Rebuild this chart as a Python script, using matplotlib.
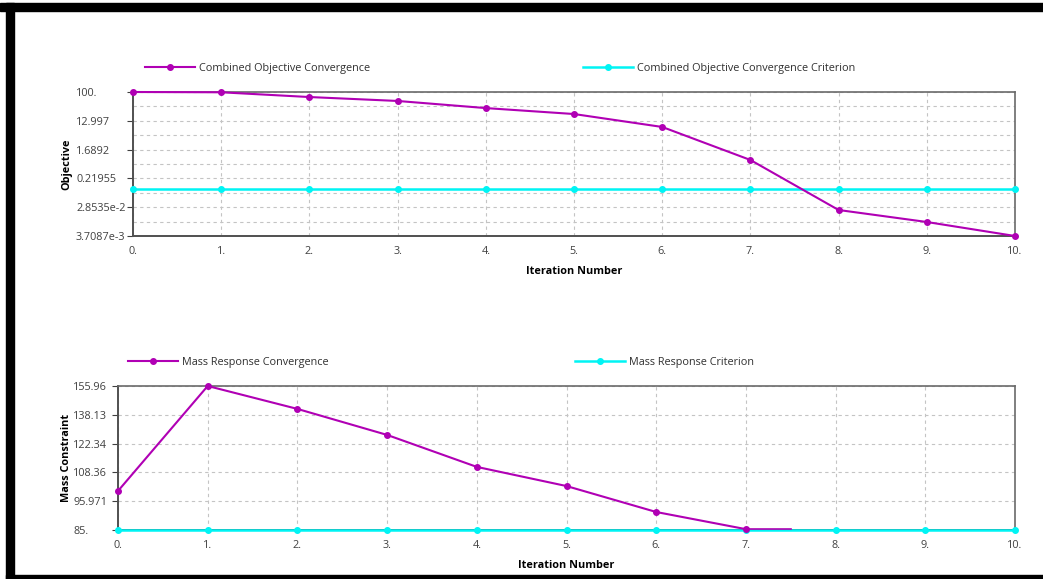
import matplotlib
matplotlib.use("Agg")
from matplotlib import pyplot as plt
from matplotlib.patches import Rectangle
import numpy as np

plt.rcParams['font.family'] = ['Open Sans', 'DejaVu Sans']

iterations = [0, 1, 2, 3, 4, 5, 6, 7, 8, 9, 10]
iter_labels = ["0.", "1.", "2.", "3.", "4.", "5.", "6.", "7.", "8.", "9.", "10."]

# objective convergence (log scale)
objective = [100.0, 98.0, 70.0, 53.0, 32.0, 21.0, 8.4, 0.81, 0.0234, 0.0100, 0.0037087]
objective_criterion = [0.105] * 11
obj_ticks = [100.0, 12.997, 1.6892, 0.21955, 2.8535e-2, 3.7087e-3]
obj_tick_labels = ["100.", "12.997", "1.6892", "0.21955", "2.8535e-2", "3.7087e-3"]

# mass response convergence (log scale)
mass_iter = [0, 1, 2, 3, 4, 5, 6, 7]
mass = [100.2, 155.96, 141.6, 126.9, 110.9, 102.3, 91.7, 85.3]
mass_tail_iter = [7, 7.5]
mass_tail = [85.3, 85.3]
mass_criterion = [85.0] * 11
mass_ticks = [155.96, 138.13, 122.34, 108.36, 95.971, 85.0]
mass_tick_labels = ["155.96", "138.13", "122.34", "108.36", "95.971", "85."]

MAG = "#b000b4"
CYAN = "#00f4f4"
W, H = 1043, 579
FS = 7.8

fig = plt.figure(figsize=(W / 100, H / 100), dpi=100)
fig.patch.set_facecolor("white")

# black frame of the screenshot
fig.patches.append(Rectangle((0, 1 - 11 / H), 1, 8 / H, transform=fig.transFigure, color="black"))
fig.patches.append(Rectangle((6 / W, 0), 8 / W, 1 - 3 / H, transform=fig.transFigure, color="black"))
fig.patches.append(Rectangle((6 / W, 0), 1, 4 / H, transform=fig.transFigure, color="black"))


def style_axes(ax, ticks, labels, minor, left_px, label_x):
    ax.set_yscale("log")
    ax.set_xlim(0, 10)
    ax.set_ylim(min(ticks), max(ticks))
    ax.set_xticks(iterations)
    ax.set_xticklabels(iter_labels)
    ax.set_yticks(ticks)
    ax.set_yticklabels(labels, ha="left")
    ax.yaxis.set_minor_formatter(matplotlib.ticker.NullFormatter())
    if minor:
        t = sorted(ticks)
        ax.set_yticks([np.sqrt(a * b) for a, b in zip(t[:-1], t[1:])], minor=True)
        ax.grid(True, which="minor", axis="y", ls=(0, (3, 3)), color="#c4c4c4", lw=0.8)
    else:
        ax.set_yticks([], minor=True)
    ax.grid(True, which="major", ls=(0, (3, 3)), color="#c4c4c4", lw=0.8)
    ax.tick_params(axis="both", labelsize=FS, colors="#404040", length=4, width=0.8)
    # left aligned tick labels, starting at a fixed pixel column
    pad = (left_px - 5.6 - label_x) * 72 / 100
    ax.tick_params(axis="y", which="major", pad=pad)
    ax.tick_params(axis="y", which="minor", length=0)
    ax.tick_params(axis="x", length=0, pad=7)
    for s in ["top", "right"]:
        ax.spines[s].set_color("#6a6a6a")
        ax.spines[s].set_linewidth(1.2)
    for s in ["left", "bottom"]:
        ax.spines[s].set_color("#505050")
        ax.spines[s].set_linewidth(1.4)


def add_legend(handle, label, x, y):
    leg = fig.legend([handle], [label], loc="center left", bbox_to_anchor=(x / W, 1 - y / H),
                     bbox_transform=fig.transFigure, frameon=False, fontsize=FS,
                     handlelength=4.6, handletextpad=0.35, borderpad=0, borderaxespad=0)
    for t in leg.get_texts():
        t.set_color("#303030")


ax1 = fig.add_axes([133 / W, 1 - 236 / H, 882 / W, 144 / H])
style_axes(ax1, obj_ticks, obj_tick_labels, True, 133, 76)
l1, = ax1.plot(iterations, objective, color=MAG, lw=1.5, marker="o", ms=4, clip_on=False, zorder=4)
l2, = ax1.plot(iterations, objective_criterion, color=CYAN, lw=1.8, marker="o", ms=4, clip_on=False, zorder=3)
ax1.set_ylabel("Objective", fontsize=FS, fontweight="bold")
ax1.yaxis.set_label_coords((72 - 133) / 882, 0.5)
ax1.set_xlabel("Iteration Number", fontsize=FS, fontweight="bold", labelpad=7)
add_legend(l1, "Combined Objective Convergence", 145, 68)
add_legend(l2, "Combined Objective Convergence Criterion", 583, 68)

ax2 = fig.add_axes([118 / W, 1 - 530 / H, 897 / W, 144 / H])
style_axes(ax2, mass_ticks, mass_tick_labels, False, 118, 73)
l3, = ax2.plot(mass_iter, mass, color=MAG, lw=1.5, marker="o", ms=4, clip_on=False, zorder=4)
ax2.plot(mass_tail_iter, mass_tail, color=MAG, lw=1.2, zorder=4, clip_on=False)
l4, = ax2.plot(iterations, mass_criterion, color=CYAN, lw=1.8, marker="o", ms=4, clip_on=False, zorder=3)
ax2.set_ylabel("Mass Constraint", fontsize=FS, fontweight="bold")
ax2.yaxis.set_label_coords((72 - 118) / 897, 0.5)
ax2.set_xlabel("Iteration Number", fontsize=FS, fontweight="bold", labelpad=7)
add_legend(l3, "Mass Response Convergence", 128, 362)
add_legend(l4, "Mass Response Criterion", 575, 362)

fig.savefig("out.png", dpi=100)
